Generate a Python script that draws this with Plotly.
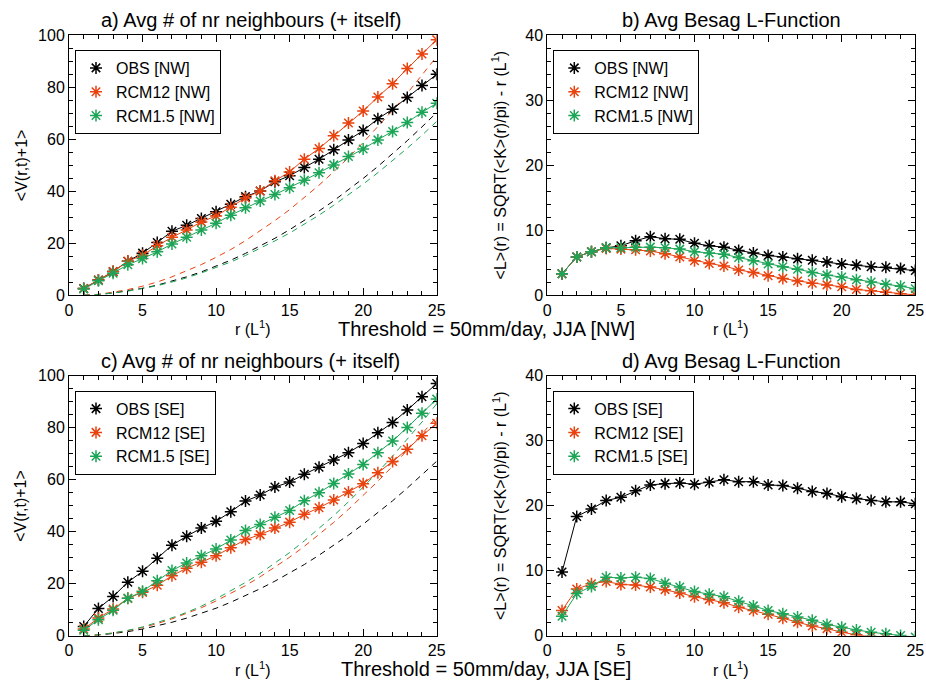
import plotly.graph_objects as go

W, H = 926, 681

r = list(range(1, 26))

# Panel a) NW, avg number of neighbours
a_obs = [2.6, 5.9, 9.1, 13.1, 16.2, 20.3, 24.6, 26.9, 29.5, 32.1, 35.0, 37.9, 40.1, 43.6, 45.9,
         49.1, 52.3, 55.9, 59.7, 63.3, 67.8, 71.5, 76.0, 80.6, 84.9]
a_rcm12 = [2.6, 5.9, 9.1, 13.1, 15.4, 19.0, 22.3, 25.1, 28.2, 30.5, 33.8, 37.4, 40.1, 44.0, 47.4,
           52.3, 56.4, 61.3, 66.2, 70.8, 76.2, 81.3, 87.1, 92.7, 98.2]
a_rcm15 = [2.4, 5.6, 8.5, 11.7, 14.1, 16.7, 19.7, 22.3, 25.1, 27.7, 30.8, 33.6, 36.2, 38.7, 41.3,
           44.2, 47.1, 50.1, 53.3, 56.2, 59.7, 62.9, 66.4, 70.3, 73.8]
a_dash_obs = [0, 0.3, 0.9, 1.7, 2.7, 3.9, 5.4, 7.1, 9.0, 11.1, 13.5, 16.1, 18.9, 21.9, 25.2,
              28.7, 32.4, 36.3, 40.5, 44.9, 49.5, 54.4, 59.4, 64.7, 70.2]
a_dash_rcm12 = [0, 0.4, 1.2, 2.2, 3.5, 5.1, 7.1, 9.3, 11.8, 14.6, 17.6, 21.0, 24.7, 28.7, 32.9,
                37.5, 42.3, 47.5, 52.9, 58.7, 64.7, 71.0, 77.6, 84.5, 91.7]
a_dash_rcm15 = [0, 0.3, 0.9, 1.6, 2.6, 3.7, 5.1, 6.7, 8.6, 10.6, 12.8, 15.3, 18.0, 20.9, 23.9,
                27.3, 30.8, 34.6, 38.5, 42.7, 47.1, 51.7, 56.5, 61.5, 66.8]

# Panel b) NW, Besag L-function
b_obs = [3.3, 5.9, 6.7, 7.3, 7.6, 8.4, 9.0, 8.7, 8.6, 8.0, 7.6, 7.4, 6.9, 6.5, 6.1,
         5.9, 5.6, 5.4, 5.1, 4.8, 4.6, 4.4, 4.3, 4.1, 3.8]
b_rcm12 = [3.3, 5.9, 6.7, 7.2, 7.1, 7.0, 6.8, 6.4, 5.9, 5.3, 4.9, 4.5, 3.9, 3.5, 3.0,
           2.6, 2.2, 1.85, 1.6, 1.3, 0.9, 0.7, 0.45, 0.25, 0.05]
b_rcm15 = [3.3, 5.9, 6.7, 7.3, 7.3, 7.4, 7.4, 7.3, 7.1, 6.7, 6.5, 6.3, 5.8, 5.3, 4.8,
           4.4, 4.0, 3.5, 3.1, 2.8, 2.4, 2.05, 1.7, 1.4, 1.0]

# Panel c) SE, avg number of neighbours
c_obs = [3.6, 10.5, 15.1, 20.6, 24.8, 29.8, 34.8, 38.3, 41.4, 44.0, 47.7, 51.8, 54.1, 57.2, 59.1,
         62.1, 64.8, 67.6, 70.4, 73.9, 78.1, 82.0, 86.8, 91.9, 97.0]
c_rcm12 = [2.6, 6.8, 10.3, 14.4, 16.7, 19.4, 23.1, 26.0, 28.3, 30.8, 33.9, 37.0, 38.9, 41.4, 43.7,
           46.7, 49.2, 52.2, 55.3, 58.5, 62.7, 67.0, 71.7, 76.9, 81.7]
c_rcm15 = [2.1, 6.2, 9.8, 14.4, 17.1, 21.2, 25.1, 28.0, 30.8, 33.4, 36.8, 40.5, 42.8, 45.6, 48.2,
           51.9, 55.0, 58.6, 62.2, 65.9, 70.4, 74.9, 80.1, 85.6, 91.0]
c_dash_obs = [0, 0.3, 0.9, 1.6, 2.6, 3.8, 5.2, 6.8, 8.6, 10.6, 12.9, 15.4, 18.1, 21.0, 24.1,
              27.4, 31.0, 34.7, 38.7, 42.9, 47.3, 51.9, 56.8, 61.8, 67.1]
c_dash_rcm12 = [0, 0.4, 1.1, 2.0, 3.2, 4.7, 6.5, 8.5, 10.8, 13.4, 16.2, 19.3, 22.7, 26.3, 30.2,
                34.4, 38.9, 43.6, 48.6, 53.9, 59.4, 65.2, 71.3, 77.6, 84.2]
c_dash_rcm15 = [0, 0.4, 1.1, 2.1, 3.4, 5.0, 6.9, 9.0, 11.4, 14.2, 17.2, 20.5, 24.0, 27.9, 32.0,
                36.5, 41.2, 46.2, 51.5, 57.1, 62.9, 69.1, 75.5, 82.2, 89.2]

# Panel d) SE, Besag L-function
d_obs = [9.8, 18.35, 19.5, 20.8, 21.3, 22.3, 23.2, 23.4, 23.5, 23.3, 23.6, 24.0, 23.7, 23.7, 23.2,
         23.1, 22.7, 22.2, 21.9, 21.4, 21.1, 20.8, 20.6, 20.6, 20.3]
d_rcm12 = [3.9, 7.2, 8.0, 8.35, 7.9, 7.8, 7.5, 7.1, 6.6, 6.0, 5.6, 5.1, 4.4, 3.9, 3.3,
           2.7, 2.1, 1.5, 1.1, 0.55, 0.15, -0.1, -0.4, -0.7, -1.0]
d_rcm15 = [3.0, 6.5, 7.6, 9.0, 8.9, 9.0, 8.8, 8.1, 7.5, 6.8, 6.4, 6.0, 5.3, 4.6, 3.9,
           3.4, 2.9, 2.4, 1.75, 1.3, 0.9, 0.55, 0.3, 0.05, -0.2]

titles = ["a) Avg # of nr neighbours (+ itself)", "b) Avg Besag L-Function",
          "c) Avg # of nr neighbours (+ itself)", "d) Avg Besag L-Function"]
series_names = ["OBS", "RCM12", "RCM1.5"]
regions = ["NW", "NW", "SE", "SE"]
thresholds = ["Threshold = 50mm/day, JJA [NW]", "Threshold = 50mm/day, JJA [SE]"]
x_title = "r (L<sup>1</sup>)"
y_title_v = "&lt;V(r,t)+1&gt;"
y_title_l = "&lt;L&gt;(r) = SQRT(&lt;K&gt;(r)/pi) - r (L<sup>1</sup>)"

COLORS = ["#000000", "#E8420E", "#1DA557"]
FONT = "Liberation Sans, Arial, Helvetica, sans-serif"


def px(x):
    return x / W


def py(y):
    return 1 - y / H


# panel pixel boxes (left, right, top, bottom)
boxes = [(69, 436.7, 35, 295.3), (547.3, 915.3, 35, 295.3),
         (69, 436.7, 375.7, 635.8), (547.3, 915.3, 375.7, 635.8)]

panels = [
    (a_obs, a_rcm12, a_rcm15, [a_dash_obs, a_dash_rcm12, a_dash_rcm15], 100, 20, 5),
    (b_obs, b_rcm12, b_rcm15, None, 40, 10, 2),
    (c_obs, c_rcm12, c_rcm15, [c_dash_obs, c_dash_rcm12, c_dash_rcm15], 100, 20, 5),
    (d_obs, d_rcm12, d_rcm15, None, 40, 10, 2),
]

fig = go.Figure()
layout = dict(
    template="none",
    width=W, height=H, margin=dict(l=0, r=0, t=0, b=0, pad=0, autoexpand=False),
    paper_bgcolor="white", plot_bgcolor="white",
    font=dict(family=FONT, size=16, color="black"),
    showlegend=True,
)
annotations = []

for i, (obs, m12, m15, dashes, ymax, ydt, yminor) in enumerate(panels):
    k = "" if i == 0 else str(i + 1)
    xa, ya = "x" + k, "y" + k
    lg = "legend" + k
    l, rgt, t, b = boxes[i]
    axis_common = dict(showline=True, linecolor="black", linewidth=1, mirror="allticks",
                       ticks="inside", ticklen=7, tickwidth=1, tickcolor="black",
                       showgrid=False, zeroline=False, automargin=False,
                       tickfont=dict(family=FONT, size=16, color="black"))
    layout["xaxis" + k] = dict(axis_common, domain=[px(l), px(rgt)], range=[0, 25], dtick=5,
                               tick0=0, anchor=ya,
                               minor=dict(ticks="inside", ticklen=4, dtick=1, tickcolor="black",
                                          showgrid=False))
    layout["yaxis" + k] = dict(axis_common, domain=[py(b), py(t)], range=[0, ymax], dtick=ydt,
                               tick0=0, anchor=xa,
                               minor=dict(ticks="inside", ticklen=4, dtick=yminor,
                                          tickcolor="black", showgrid=False))
    if dashes is not None:
        for c, dv in zip(COLORS, dashes):
            fig.add_trace(go.Scatter(x=r, y=dv, mode="lines", xaxis=xa, yaxis=ya,
                                     line=dict(color=c, width=1, dash="6px,5px"),
                                     showlegend=False, hoverinfo="skip"))
    for c, name, vals in zip(COLORS, series_names, [obs, m12, m15]):
        fig.add_trace(go.Scatter(x=r, y=vals, mode="lines", xaxis=xa, yaxis=ya,
                                 line=dict(color=c, width=1), showlegend=False))
        fig.add_trace(go.Scatter(x=r, y=vals, mode="markers", xaxis=xa, yaxis=ya,
                                 name=f"{name} [{regions[i]}]", legend=lg,
                                 marker=dict(symbol="asterisk-open", size=10, color=c,
                                             line=dict(color=c, width=1.5))))
    layout[lg] = dict(x=px(l + 6), y=py(t + 15), xanchor="left", yanchor="top",
                      bordercolor="black", borderwidth=1, bgcolor="white",
                      font=dict(family=FONT, size=16, color="black"),
                      tracegroupgap=0, itemwidth=30)
    cx = (l + rgt) / 2
    annotations.append(dict(text=titles[i], x=px(cx - 2 if i % 2 == 0 else cx), y=py(t - 15),
                            xref="paper", yref="paper", showarrow=False,
                            font=dict(family=FONT, size=20), xanchor="center", yanchor="middle"))
    annotations.append(dict(text=x_title, x=px(cx), y=py(b + 33), xref="paper", yref="paper",
                            showarrow=False, font=dict(family=FONT, size=16),
                            xanchor="center", yanchor="middle"))
    ytxt = y_title_v if i % 2 == 0 else y_title_l
    annotations.append(dict(text=ytxt, x=px(l - 48), y=py((t + b) / 2), xref="paper",
                            yref="paper", showarrow=False, textangle=-90,
                            font=dict(family=FONT, size=16), xanchor="center",
                            yanchor="middle"))

for j, txt in enumerate(thresholds):
    annotations.append(dict(text=txt, x=px(486), y=py(329 if j == 0 else 669), xref="paper",
                            yref="paper", showarrow=False, font=dict(family=FONT, size=20),
                            xanchor="center", yanchor="middle"))

layout["annotations"] = annotations
fig.update_layout(**layout)
fig.write_html("out.html", config={"displayModeBar": False},
               post_script="document.body.style.margin='0';document.body.style.overflow='hidden';")
